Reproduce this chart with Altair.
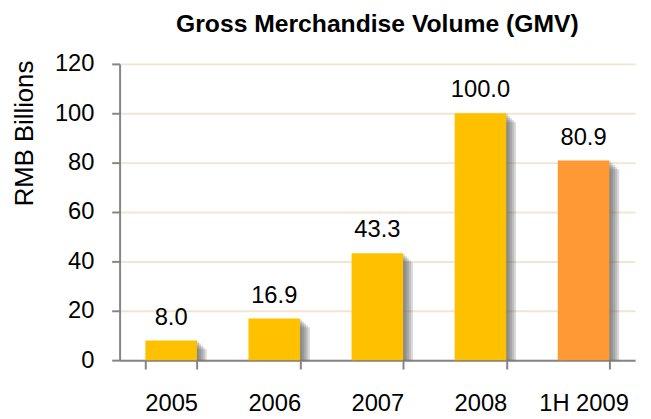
import altair as alt
import pandas as pd

categories = ["2005", "2006", "2007", "2008", "1H 2009"]
values = [8.0, 16.9, 43.3, 100.0, 80.9]
bar_colors = ["#FFC000", "#FFC000", "#FFC000", "#FFC000", "#FF9933"]
y_ticks = [0, 20, 40, 60, 80, 100, 120]

df = pd.DataFrame({"cat": categories, "val": values})

FONT = "Liberation Sans"

x_enc = alt.X(
    "cat:N",
    sort=categories,
    title=None,
    scale=alt.Scale(paddingInner=0.5, paddingOuter=0.25),
    axis=alt.Axis(
        labelAngle=0,
        labelFont=FONT,
        labelFontSize=24,
        labelColor="#000000",
        labelPadding=23,
        tickBand="extent",
        tickSize=9,
        tickColor="#858585",
        tickWidth=2,
        domainColor="#858585",
        domainWidth=2,
        grid=False,
    ),
)

y_enc = alt.Y(
    "val:Q",
    scale=alt.Scale(domain=[0, 120], nice=False),
    axis=alt.Axis(
        values=y_ticks,
        title="RMB Billions",
        titleFont=FONT,
        titleFontSize=26,
        titleFontWeight="normal",
        titleColor="#000000",
        titleAngle=-90,
        titleBaseline="alphabetic",
        titleAlign="center",
        titleX=-88,
        titleY=70,
        labelFont=FONT,
        labelFontSize=24,
        labelColor="#000000",
        labelPadding=18,
        tickSize=8,
        tickColor="#858585",
        tickWidth=2,
        domainColor="#858585",
        domainWidth=2,
        grid=True,
        gridColor="#F2E6D2",
        gridWidth=2,
    ),
)

base = alt.Chart(df)

shadows = [
    base.mark_bar(color="#5A5A5A", opacity=0.22, xOffset=off, yOffset=off - 1, clip=True).encode(
        x=x_enc, y=y_enc
    )
    for off in (2, 4, 6, 8, 10)
]

bars = base.mark_bar().encode(
    x=x_enc,
    y=y_enc,
    color=alt.Color(
        "cat:N",
        scale=alt.Scale(domain=categories, range=bar_colors),
        legend=None,
    ),
)

labels = base.mark_text(
    font=FONT, fontSize=24, color="#000000", baseline="alphabetic", dy=-16
).encode(
    x=x_enc,
    y=y_enc,
    text=alt.Text("val:Q", format=".1f"),
)

chart = (
    alt.layer(*shadows, bars, labels)
    .properties(
        width=522,
        height=300,
        title=alt.TitleParams(
            text="Gross Merchandise Volume (GMV)",
            font=FONT,
            fontSize=25,
            fontWeight="bold",
            color="#000000",
            anchor="middle",
            offset=15,
        ),
        autosize=alt.AutoSizeParams(type="none"),
        padding={"left": 113, "top": 54, "right": 8, "bottom": 57},
    )
    .configure_view(stroke=None)
)

chart.save("out.html", embed_options={"renderer": "svg", "actions": False})
